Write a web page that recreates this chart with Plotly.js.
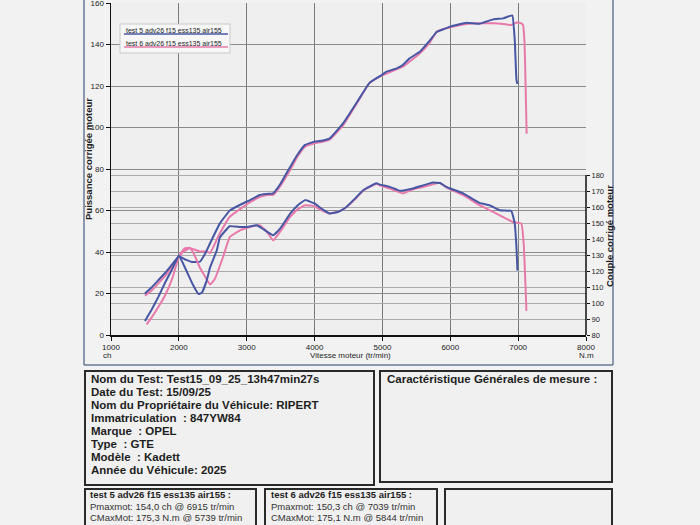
<!DOCTYPE html>
<html><head><meta charset="utf-8">
<script src="https://cdn.plot.ly/plotly-3.0.1.min.js"></script>
<style>html,body{margin:0;padding:0;background:#f2f2f2;}#chart{width:700px;height:525px;}</style>
</head><body><div id="chart"></div>
<script>
// ---- Data (read from the dyno sheet) ----
const seriesNames = ["test 5 adv26 f15 ess135 air155", "test 6 adv26 f15 ess135 air155"];

const rpmPowerT5 = [1500,1600,1700,1800,1900,2000,2100,2190,2310,2400,2460,2605,2750,2950,3050,3190,3300,3390,3500,3640,3750,3860,4000,4100,4225,4420,4640,4810,4990,5060,5210,5300,5400,5550,5700,5800,6000,6240,6430,6630,6780,6880,6915,6950,6975,6990];
const powerT5    = [20,23,26.5,30,34,38,36.3,35.2,35.3,40,44.2,53.8,60,63.5,65,67.5,68,68.3,73,81,87,91.6,93.2,93.6,94.8,102,113,121.5,125.3,126.9,128.5,130.1,133.3,136.5,142,146,148.6,150.5,150,152.1,152.6,153.8,154,142.2,123,121];

const rpmPowerT6 = [1500,1600,1700,1800,1900,2000,2080,2160,2250,2310,2410,2460,2530,2605,2750,2950,3050,3190,3300,3390,3500,3640,3750,3860,4000,4100,4225,4420,4640,4810,4990,5060,5300,5550,5700,5800,6000,6240,6430,6630,6780,6900,6980,7040,7072,7095,7110,7125];
const powerT6    = [19,21.5,25,28.5,33,37.8,40.5,41.8,41,40.2,40.3,39.5,44,49,57,61.8,64,66.5,67.5,67.5,72,79.5,86,90.8,92.4,93,94.3,101,112.5,121.5,125,126,129.3,135.7,141,146.2,148.3,149.9,150.2,150.2,149.9,149.4,150.6,150.3,149.4,140,120,97];

const rpmTorqueT5 = [1500,1600,1700,1800,1900,2000,2110,2200,2290,2340,2410,2460,2560,2605,2750,2900,3000,3150,3250,3390,3500,3640,3750,3860,4000,4100,4225,4350,4470,4600,4720,4910,4960,5110,5260,5450,5600,5740,5850,5940,6190,6430,6580,6730,6900,6950,6975,6990];
const torqueT5    = [88.8,96,104,113,121,129.7,120.3,112,105.6,106.5,114,122.3,133,141,148,147.5,147.5,148.6,146,142.3,147,155.9,161,164.3,162.2,159,155.9,157,160,165.5,170.6,174.8,174,172.6,170.1,171.6,173.5,175.3,175,172.6,168.5,162.6,161.1,158,157.5,149.6,134.9,120.3];

const rpmTorqueT6 = [1525,1600,1720,1800,1900,2000,2080,2160,2220,2300,2380,2460,2530,2650,2750,2900,3050,3190,3290,3390,3500,3640,3750,3860,4000,4100,4225,4350,4470,4600,4720,4910,4960,5110,5300,5450,5600,5800,5844,5940,6190,6430,6680,6925,7048,7082,7100,7122];
const torqueT6    = [86.7,91,99,105,115,129,134,134.5,131,123,117,111.5,115,128.6,141.2,145.4,147.5,148.6,145,139.1,145,153.8,158.5,161.1,160.5,158,155.9,157,160,165,170.3,174.5,173.5,171.5,168.5,171,172.5,174.8,175.1,172.3,167.4,161.1,155.9,150.6,149.6,137,120,95.1];

const xTicks = [1000,2000,3000,4000,5000,6000,7000,8000];
const powerTicks = [0,20,40,60,80,100,120,140,160];
const torqueTicks = [80,90,100,110,120,130,140,150,160,170,180];

const infoLines = [
  "Nom du Test: Test15_09_25_13h47min27s",
  "Date du Test: 15/09/25",
  "Nom du Propriétaire du Véhicule: RIPERT",
  "Immatriculation  : 847YW84",
  "Marque  : OPEL",
  "Type  : GTE",
  "Modèle  : Kadett",
  "Année du Véhicule: 2025"
];
const summaryT5 = ["test 5 adv26 f15 ess135 air155 :", "Pmaxmot: 154,0 ch @ 6915 tr/min", "CMaxMot: 175,3 N.m @ 5739 tr/min"];
const summaryT6 = ["test 6 adv26 f15 ess135 air155 :", "Pmaxmot: 150,3 ch @ 7039 tr/min", "CMaxMot: 175,1 N.m @ 5844 tr/min"];

// ---- Styling ----
const BLUE = "#4757a3";
const PINK = "#e87aab";
const FONT = "Liberation Sans, Arial, sans-serif";
const L = 111, R = 586, T = 3, B = 335;
const px = x => (x - L) / (R - L);
const py = y => (B - y) / (B - T);

function line(x, y, color, yaxis) {
  return {x: x, y: y, type: "scatter", mode: "lines", yaxis: yaxis,
          line: {color: color, width: 2, shape: "spline", smoothing: 0.3},
          hoverinfo: "skip", showlegend: false};
}
const data = [
  line(rpmPowerT6, powerT6, PINK, "y"),
  line(rpmTorqueT6, torqueT6, PINK, "y2"),
  line(rpmPowerT5, powerT5, BLUE, "y"),
  line(rpmTorqueT5, torqueT5, BLUE, "y2")
];

const shapes = [];
const annotations = [];
function rectPx(x0, y0, x1, y1, color, w, fill) {
  shapes.push({type: "rect", xref: "paper", yref: "paper", x0: px(x0), x1: px(x1), y0: py(y1), y1: py(y0),
               line: {color: color, width: w}, fillcolor: fill || "rgba(0,0,0,0)", layer: "above"});
}
function linePx(x0, y0, x1, y1, color, w) {
  shapes.push({type: "line", xref: "paper", yref: "paper", x0: px(x0), x1: px(x1), y0: py(y0), y1: py(y1),
               line: {color: color, width: w}, layer: "above"});
}
function textPx(x, y, txt, size, opts) {
  opts = opts || {};
  annotations.push(Object.assign({xref: "paper", yref: "paper", x: px(x), y: py(y), text: txt, showarrow: false,
    xanchor: "left", yanchor: "middle", font: {family: FONT, size: size, color: "#1e1e1e"}}, opts));
}

// right torque axis line (only over labelled range)
shapes.push({type: "line", xref: "paper", yref: "y2", x0: 1, x1: 1, y0: 80, y1: 180, line: {color: "#111", width: 1.5}});

// chart frame
linePx(84, -5, 84, 365, "#6a7896", 1.5);
linePx(84, 365, 613, 365, "#6a7896", 1.5);
linePx(613, -5, 613, 365, "#6a7896", 1.5);

// legend box
rectPx(120, 24, 230, 53, "#c9c9c9", 1, "#f7f7f7");
textPx(124, 30, seriesNames[0], 7);
textPx(124, 43, seriesNames[1], 7);
linePx(124, 34, 228, 34, BLUE, 1.5);
linePx(124, 47, 228, 47, PINK, 1.5);

// axis titles
textPx(88, 159, "<b>Puissance corrigée moteur</b>", 9.5, {xanchor: "center", textangle: -90});
textPx(609, 236, "<b>Couple corrigé moteur</b>", 9.5, {xanchor: "center", textangle: -90});
textPx(350, 355, "Vitesse moteur (tr/min)", 8, {xanchor: "center"});
textPx(101, 355, "ch", 8);
textPx(577, 355, "N.m", 8);

// info boxes
rectPx(85, 371, 374, 485, "#2a2a2a", 2, "#f0f0f0");
rectPx(380, 371, 612, 482, "#2a2a2a", 2, "#f0f0f0");
rectPx(85, 489, 256, 530, "#2a2a2a", 2, "#f0f0f0");
rectPx(265, 489, 437, 530, "#2a2a2a", 2, "#f0f0f0");
rectPx(445, 489, 612, 530, "#2a2a2a", 2, "#f0f0f0");

infoLines.forEach((t, i) => textPx(89, 379 + 13 * i, "<b>" + t + "</b>", 11.5));
textPx(385, 379, "<b>Caractéristique Générales de mesure :</b>", 11.5);

[summaryT5, summaryT6].forEach((s, k) => {
  const x0 = k === 0 ? 88 : 269;
  textPx(x0, 494, "<b>" + s[0] + "</b>", 9.5);
  textPx(x0, 506, s[1], 9.5, {font: {family: FONT, size: 9.5, color: "#333"}});
  textPx(x0, 517, s[2], 9.5, {font: {family: FONT, size: 9.5, color: "#333"}});
});

const tickFont = {family: FONT, size: 8, color: "#222"};
const layout = {
  width: 700, height: 525,
  margin: {l: L, r: 700 - R, t: T, b: 525 - B, pad: 0},
  paper_bgcolor: "#f2f2f2", plot_bgcolor: "#efefef",
  showlegend: false,
  xaxis: {range: [1000, 8000], tickvals: xTicks, ticktext: xTicks.map(String), showgrid: true, gridcolor: "#7a7a7a", gridwidth: 1,
          showline: true, linecolor: "#111", linewidth: 1.5, ticks: "outside", ticklen: 4, tickcolor: "#111",
          tickfont: tickFont, zeroline: false, fixedrange: true},
  yaxis: {range: [0, 160], tickvals: powerTicks, showgrid: true, gridcolor: "#8a8a8a", gridwidth: 1,
          showline: true, linecolor: "#111", linewidth: 1.5, ticks: "outside", ticklen: 4, tickcolor: "#111",
          tickfont: tickFont, zeroline: false, ticklabeloverflow: "allow"},
  yaxis2: {range: [80, 80 + (B - T) / 1.6], overlaying: "y", side: "right", tickvals: torqueTicks,
           showgrid: true, gridcolor: "#ababab", gridwidth: 1, showline: false, ticks: "outside", ticklen: 3, tickcolor: "#111",
           tickfont: {family: FONT, size: 7.5, color: "#222"}, zeroline: false},
  shapes: shapes,
  annotations: annotations
};
Plotly.newPlot("chart", data, layout, {staticPlot: true, displayModeBar: false});
</script>
</body></html>
